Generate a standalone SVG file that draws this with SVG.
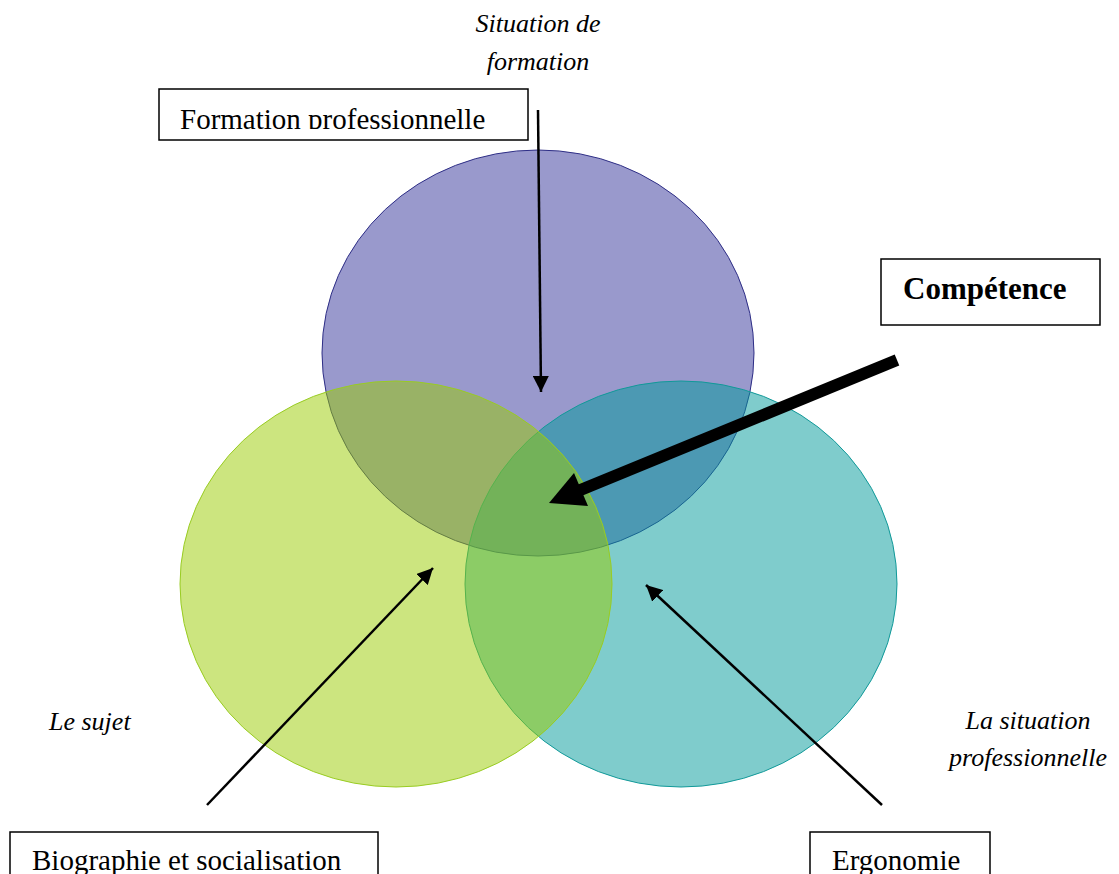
<svg xmlns="http://www.w3.org/2000/svg" width="1119" height="874" viewBox="0 0 1119 874">
<style>
.box{fill:#fff;stroke:#000;stroke-width:1.5}
.t{font-family:"Liberation Serif","Times New Roman",serif;font-size:29px;fill:#000}
.it{font-family:"Liberation Serif","Times New Roman",serif;font-size:26px;font-style:italic;fill:#000}
.b{font-family:"Liberation Serif","Times New Roman",serif;font-size:31px;font-weight:bold;fill:#000}
.ln{stroke:#000;stroke-width:2.5;fill:none}
</style>
<defs>
<marker id="ah" viewBox="0 0 10 10" refX="10" refY="5" markerWidth="6.4" markerHeight="6.4" markerUnits="strokeWidth" orient="auto">
<path d="M0,0 L10,5 L0,10 Z" fill="#000"/>
</marker>
<clipPath id="c1"><rect x="159" y="89" width="369" height="40"/></clipPath>
<clipPath id="c3"><rect x="10" y="832" width="368" height="42"/></clipPath>
<clipPath id="c4"><rect x="810" y="832" width="180" height="42"/></clipPath>
</defs>
<rect width="1119" height="874" fill="#fff"/>
<g id="circle-formation">
<ellipse cx="538" cy="353" rx="216" ry="203" fill="#333399" fill-opacity="0.5" stroke="#2e2e86" stroke-width="1"/>
</g>
<g id="circle-situation">
<ellipse cx="681" cy="584" rx="216" ry="203" fill="#009999" fill-opacity="0.5" stroke="#119999" stroke-width="1"/>
</g>
<g id="circle-sujet">
<ellipse cx="396" cy="584" rx="216" ry="203" fill="#99cc00" fill-opacity="0.5" stroke="#99cc22" stroke-width="1"/>
</g>
<g id="label-situation-formation">
<text class="it" x="538" y="32" text-anchor="middle">Situation de</text>
<text class="it" x="538" y="70" text-anchor="middle">formation</text>
</g>
<g id="label-sujet"><text class="it" x="49" y="730">Le sujet</text></g>
<g id="label-situation-pro">
<text class="it" x="1028" y="729" text-anchor="middle">La situation</text>
<text class="it" x="1028" y="766" text-anchor="middle">professionnelle</text>
</g>
<g id="box-formation">
<rect class="box" x="159" y="89" width="369" height="51"/>
<text class="t" x="180" y="129" clip-path="url(#c1)">Formation professionnelle</text>
</g>
<g id="box-competence">
<rect class="box" x="881" y="259" width="219" height="66"/>
<text class="b" x="903" y="299">Compétence</text>
</g>
<g id="box-biographie">
<rect class="box" x="10" y="832" width="368" height="60"/>
<text class="t" x="32" y="870" clip-path="url(#c3)">Biographie et socialisation</text>
</g>
<g id="box-ergonomie">
<rect class="box" x="810" y="832" width="180" height="60"/>
<text class="t" x="832" y="870" clip-path="url(#c4)">Ergonomie</text>
</g>
<g id="connectors">
<line class="ln" x1="538" y1="110" x2="541" y2="392" marker-end="url(#ah)"/>
<line class="ln" x1="207" y1="805" x2="433" y2="568" marker-end="url(#ah)"/>
<line class="ln" x1="882" y1="805" x2="646" y2="585" marker-end="url(#ah)"/>
<line x1="897" y1="360" x2="578" y2="491" stroke="#000" stroke-width="12"/>
<polygon points="549,503 574,473 588,506" fill="#000"/>
</g>
</svg>
